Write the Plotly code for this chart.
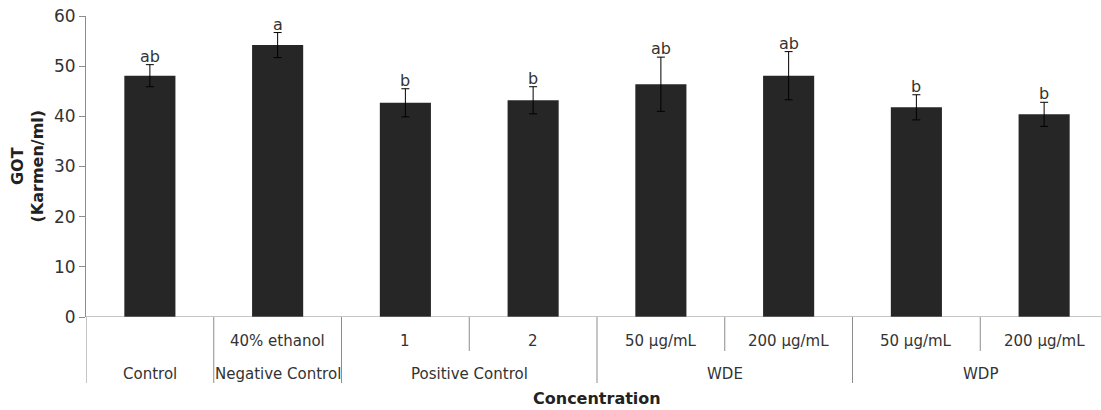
import plotly.graph_objects as go

# ---- data ----
inner_labels = ["", "40% ethanol", "1", "2", "50 μg/mL", "200 μg/mL", "50 μg/mL", "200 μg/mL"]
group_names = ["Control", "Negative Control", "Positive Control", "WDE", "WDP"]
group_sizes = [1, 1, 2, 2, 2]
means = [48.1, 54.2, 42.7, 43.2, 46.4, 48.1, 41.8, 40.4]
errors = [2.2, 2.5, 2.8, 2.7, 5.4, 4.8, 2.5, 2.4]
letters = ["ab", "a", "b", "b", "ab", "ab", "b", "b"]
y_ticks = [0, 10, 20, 30, 40, 50, 60]

W, H = 1101, 410
ML, MR, MT = 86, 0, 16
plot_h = 301
MB = H - MT - plot_h
plot_w = W - ML - MR
FONT = "DejaVu Sans"
TXT = "#333333"
AX = "#8c8c8c"

def py(px):
    """convert pixel offset below the x axis to paper coordinate"""
    return -px / plot_h

xs = list(range(len(means)))

fig = go.Figure()
fig.add_trace(go.Bar(
    x=xs, y=means, width=0.4,
    marker=dict(color="#262626", line=dict(width=0)),
    error_y=dict(type="data", array=errors, visible=True,
                 color="#000000", thickness=1, width=4),
    showlegend=False, hoverinfo="skip",
))

annotations = []
# significance letters
for i, (m, e, l) in enumerate(zip(means, errors, letters)):
    annotations.append(dict(x=i, y=m + e, xref="x", yref="y", text=l,
                            showarrow=False, yanchor="bottom", yshift=-3,
                            font=dict(family=FONT, size=16, color=TXT)))
# inner labels
for i, lab in enumerate(inner_labels):
    if lab:
        annotations.append(dict(x=i, y=py(24), xref="x", yref="paper", text=lab,
                                showarrow=False, yanchor="middle",
                                font=dict(family=FONT, size=15, color=TXT)))
# group labels + dividers
shapes = []
start = 0
bounds = [-0.5]
for name, size in zip(group_names, group_sizes):
    center = start + (size - 1) / 2
    annotations.append(dict(x=center, y=py(57), xref="x", yref="paper", text=name,
                            showarrow=False, yanchor="middle",
                            font=dict(family=FONT, size=15, color=TXT)))
    for k in range(1, size):
        shapes.append(dict(type="line", xref="x", yref="paper",
                           x0=start + k - 0.5, x1=start + k - 0.5,
                           y0=0, y1=py(34), line=dict(color=AX, width=1)))
    start += size
    bounds.append(start - 0.5)
for b in bounds:
    shapes.append(dict(type="line", xref="x", yref="paper", x0=b, x1=b,
                       y0=0, y1=py(66), line=dict(color=AX, width=1)))

# axis titles
annotations.append(dict(x=(597 - ML) / plot_w, y=py(81), xref="paper", yref="paper",
                        text="<b>Concentration</b>", showarrow=False,
                        xanchor="center", yanchor="middle",
                        font=dict(family=FONT, size=16, color="#222222")))
annotations.append(dict(x=-(ML - 27) / plot_w, y=0.5, xref="paper", yref="paper",
                        text="<b>GOT<br>(Karmen/ml)</b>", showarrow=False,
                        textangle=-90, xanchor="center", yanchor="middle",
                        font=dict(family=FONT, size=16, color="#222222")))

cat_w = 127.75
x_max = -0.5 + plot_w / cat_w

fig.update_layout(
    width=W, height=H,
    margin=dict(l=ML, r=MR, t=MT, b=MB, autoexpand=False),
    paper_bgcolor="white", plot_bgcolor="white",
    xaxis=dict(range=[-0.5, x_max], showticklabels=False, ticks="",
               showgrid=False, zeroline=False, showline=False, fixedrange=True),
    yaxis=dict(range=[0, 60], tickvals=y_ticks, ticks="outside", ticklen=6,
               tickcolor=AX, showline=True, linecolor=AX, linewidth=1,
               showgrid=False, zeroline=False, automargin=False,
               ticklabeloverflow="allow",
               tickfont=dict(family=FONT, size=17, color=TXT)),
    annotations=annotations,
    shapes=shapes + [dict(type="line", xref="paper", yref="y", x0=0, x1=1,
                          y0=0, y1=0, line=dict(color=AX, width=1))],
    bargap=0.6,
)

fig.write_html(
    "out.html",
    config={"displayModeBar": False},
    post_script="document.body.style.margin='0';document.body.style.overflow='hidden';",
)
